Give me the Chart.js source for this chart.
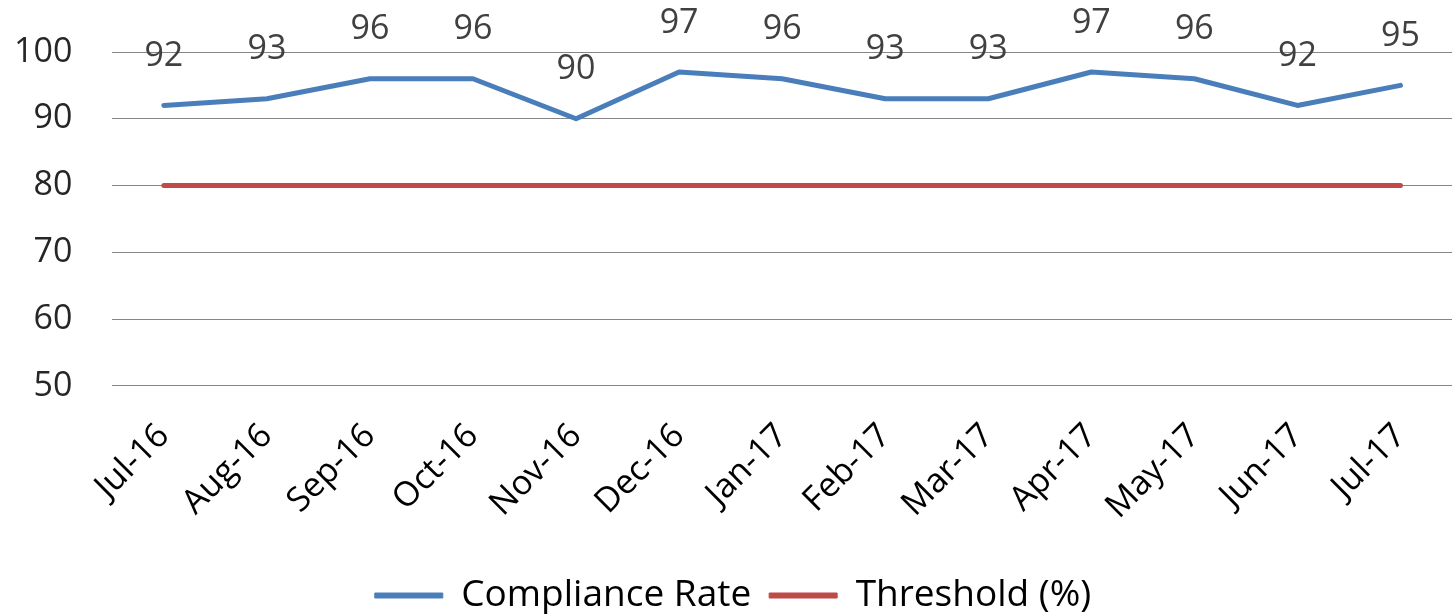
<!DOCTYPE html>
<html>
<head>
<meta charset="utf-8">
<script src="https://cdn.jsdelivr.net/npm/chart.js@4/dist/chart.umd.min.js"></script>
<style>
html,body{margin:0;padding:0;background:#fff;}
#wrap{width:1456px;height:614px;}
</style>
</head>
<body>
<div id="wrap"><canvas id="c" width="1456" height="614"></canvas></div>
<script>
const categories = ["Jul-16","Aug-16","Sep-16","Oct-16","Nov-16","Dec-16","Jan-17","Feb-17","Mar-17","Apr-17","May-17","Jun-17","Jul-17"];
const complianceRate = [92,93,96,96,90,97,96,93,93,97,96,92,95];
const threshold = [80,80,80,80,80,80,80,80,80,80,80,80,80];
const yTicks = [50,60,70,80,90,100];

const dataLabelPlugin = {
  id: 'dataLabels',
  afterDatasetsDraw(chart) {
    const ctx = chart.ctx;
    const meta = chart.getDatasetMeta(0);
    ctx.save();
    ctx.font = '34px "Open Sans"';
    ctx.fillStyle = '#404040';
    ctx.textAlign = 'center';
    ctx.textBaseline = 'middle';
    meta.data.forEach((pt, i) => {
      ctx.fillText(String(chart.data.datasets[0].data[i]), pt.x, pt.y - 49);
    });
    ctx.restore();
  }
};

new Chart(document.getElementById('c'), {
  type: 'line',
  data: {
    labels: categories,
    datasets: [
      {label: 'Compliance Rate', data: complianceRate, borderColor: '#4a7ebb', backgroundColor: '#4a7ebb', borderWidth: 5, pointRadius: 0, tension: 0, borderCapStyle: 'round', borderJoinStyle: 'round'},
      {label: 'Threshold (%)', data: threshold, borderColor: '#be4b48', backgroundColor: '#be4b48', borderWidth: 5, pointRadius: 0, tension: 0, borderCapStyle: 'round'}
    ]
  },
  options: {
    responsive: false,
    animation: false,
    layout: {padding: {top: 52, left: 14, right: 4, bottom: -10}},
    plugins: {
      tooltip: {enabled: false},
      legend: {
        position: 'bottom',
        labels: {
          font: {family: '"Open Sans"', size: 37},
          color: '#000',
          boxWidth: 68,
          boxHeight: 5,
          padding: 18,
          generateLabels(chart) {
            return chart.data.datasets.map((d, i) => ({
              text: d.label, fillStyle: d.borderColor, strokeStyle: d.borderColor,
              lineWidth: 1, datasetIndex: i, hidden: false, fontColor: '#000'
            }));
          }
        }
      }
    },
    scales: {
      x: {
        offset: true,
        grid: {display: false, drawTicks: false},
        border: {display: false},
        ticks: {font: {family: '"Open Sans"', size: 34}, color: '#000', maxRotation: 45, minRotation: 45, padding: 30},
        afterFit(scale) { scale.paddingLeft = 0; scale.paddingRight = 0; scale.height += 2; }
      },
      y: {
        min: 50, max: 100,
        afterBuildTicks(axis) { axis.ticks = yTicks.map(v => ({value: v})); },
        grid: {color: '#868686', lineWidth: 1, drawTicks: false},
        border: {display: false},
        ticks: {font: {family: '"Open Sans"', size: 34}, color: '#262626', padding: 40},
        afterFit(scale) { scale.width -= 40; scale.paddingTop = 0; scale.paddingBottom = 0; }
      }
    }
  },
  plugins: [dataLabelPlugin]
});
</script>
</body>
</html>
